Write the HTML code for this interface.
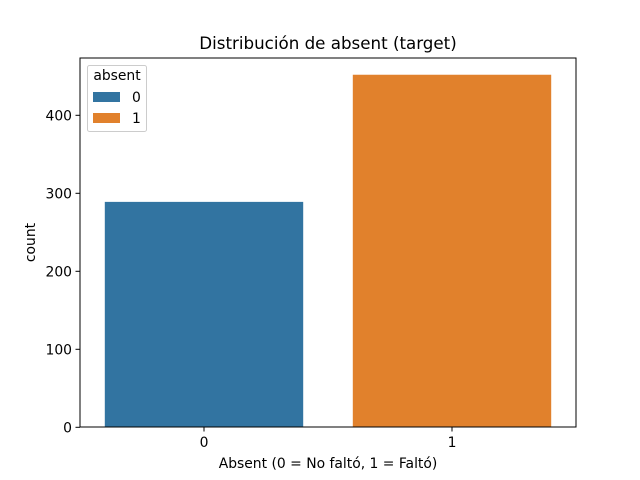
<!DOCTYPE html>
<html><head><meta charset="utf-8"><style>
body{margin:0;background:#fff;}
svg{display:block;font-family:"DejaVu Sans","Liberation Sans",sans-serif;}
</style></head><body>
<svg id="chart" width="640" height="480">
<rect width="640" height="480" fill="#fff"/>
<text x="328" y="49" font-size="16.7" text-anchor="middle">Distribución de absent (target)</text>
<g id="bars"></g>
<g id="yticks"></g>
<g id="xticks"></g>
<rect x="80" y="58" width="496" height="369" fill="none" stroke="#000" stroke-width="1"/>
<text x="328" y="468" font-size="13.9" text-anchor="middle">Absent (0 = No faltó, 1 = Faltó)</text>
<text transform="translate(35,242.5) rotate(-90)" font-size="13.9" text-anchor="middle">count</text>
<g>
<rect x="87.5" y="65.5" width="59" height="66" rx="2" fill="#fff" fill-opacity="0.8" stroke="#ccc"/>
<text x="117" y="80" font-size="13.9" text-anchor="middle">absent</text>
<g><rect x="93" y="92" width="27" height="10" fill="#3274a1"/><text x="132" y="102" font-size="13.9">0</text></g>
<g><rect x="93" y="113" width="27" height="10" fill="#e1812c"/><text x="132" y="123" font-size="13.9">1</text></g>
</g>
</svg>
<script>
const categories=["0","1"];
const counts=[289,452];
const colors=["#3274a1","#e1812c"];
const yTicks=[0,100,200,300,400];
const X0=80,W=496,Y0=427.3,PX=0.78;
const x=i=>X0+(i+0.5)*W/categories.length;
const y=v=>Y0-v*PX;
const NS="http://www.w3.org/2000/svg";
const bars=document.getElementById('bars'),yt=document.getElementById('yticks'),xt=document.getElementById('xticks');
const bw=0.8*W/categories.length;
categories.forEach((c,i)=>{
 const r=document.createElementNS(NS,'rect');
 r.setAttribute('x',x(i)-bw/2);r.setAttribute('y',y(counts[i]));
 r.setAttribute('width',bw);r.setAttribute('height',Y0-y(counts[i]));
 r.setAttribute('fill',colors[i]);
 
 
 bars.appendChild(r);
 const l=document.createElementNS(NS,'line');
 l.setAttribute('x1',x(i));l.setAttribute('x2',x(i));l.setAttribute('y1',427);l.setAttribute('y2',431.5);l.setAttribute('stroke','#000');
 xt.appendChild(l);
 const t=document.createElementNS(NS,'text');
 t.setAttribute('x',x(i));t.setAttribute('y',447);t.setAttribute('font-size','13.9');t.setAttribute('text-anchor','middle');
 t.textContent=c;
 
 
 xt.appendChild(t);
});
yTicks.forEach(v=>{
 const l=document.createElementNS(NS,'line');
 l.setAttribute('x1',75.5);l.setAttribute('x2',80);l.setAttribute('y1',y(v));l.setAttribute('y2',y(v));l.setAttribute('stroke','#000');
 yt.appendChild(l);
 const t=document.createElementNS(NS,'text');
 t.setAttribute('x',72);t.setAttribute('y',y(v)+5);t.setAttribute('font-size','13.9');t.setAttribute('text-anchor','end');
 t.textContent=v;
 
 
 yt.appendChild(t);
});
</script>
</body></html>
